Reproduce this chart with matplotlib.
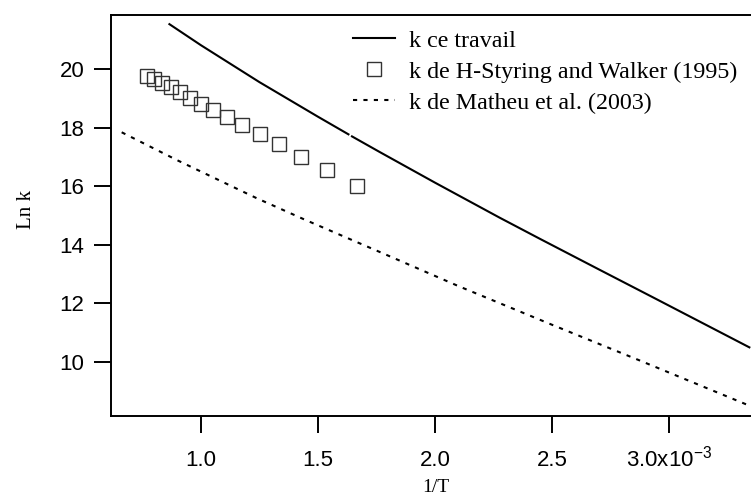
import numpy as np
import matplotlib
matplotlib.use('Agg')
import matplotlib.pyplot as plt

# 1/T in units of 1e-3 K^-1
calc_x1 = [0.865, 1.000, 1.250, 1.500, 1.630]
calc_y1 = [21.53, 20.81, 19.55, 18.37, 17.77]
calc_x2 = [1.645, 1.765, 2.000, 2.275, 2.449, 2.700, 2.940, 3.343]
calc_y2 = [17.70, 17.16, 16.12, 14.93, 14.20, 13.16, 12.17, 10.50]

hs_x = [0.769, 0.800, 0.833, 0.870, 0.909, 0.952, 1.000, 1.053,
        1.111, 1.176, 1.250, 1.333, 1.429, 1.538, 1.667]
hs_y = [19.77, 19.66, 19.52, 19.38, 19.21, 19.00, 18.80, 18.60,
        18.35, 18.09, 17.77, 17.43, 17.00, 16.54, 16.02]

mat_x = [0.661, 0.900, 1.238, 1.440, 1.800, 2.100, 2.221, 2.500, 2.869, 3.346]
mat_y = [17.84, 16.88, 15.59, 14.87, 13.63, 12.59, 12.19, 11.27, 10.07, 8.50]

xticks = [1.0, 1.5, 2.0, 2.5, 3.0]
xtick_labels = ['1.0', '1.5', '2.0', '2.5', r'3.0x10$^{\mathregular{-3}}$']
yticks = [10, 12, 14, 16, 18, 20]

plt.rcParams['mathtext.fontset'] = 'custom'
plt.rcParams['mathtext.rm'] = 'Liberation Sans'

fig = plt.figure(figsize=(7.51, 4.96), dpi=100)
ax = fig.add_axes([111/751, 1 - 416/496, 640/751, 401.3/496])

ax.plot(calc_x1, calc_y1, color='k', lw=1.5, label='k ce travail')
ax.plot(calc_x2, calc_y2, color='k', lw=1.5)
ax.plot(hs_x, hs_y, ls='none', marker='s', ms=9.5, mfc='none', mec='#333333', mew=1,
        label='k de H-Styring and Walker (1995)')
ax.plot(mat_x, mat_y, color='k', lw=1.5, ls=(0, (2, 3)), label='k de Matheu et al. (2003)')

ax.set_xlim(0.6154, 3.350)
ax.set_ylim(8.157, 21.853)

ax.set_xticks(xticks)
ax.set_xticklabels(xtick_labels, fontfamily='Liberation Sans', fontsize=16)
ax.set_yticks(yticks)
ax.set_yticklabels([str(v) for v in yticks], fontfamily='Liberation Sans', fontsize=16)
ax.tick_params(axis='both', direction='out', length=12, width=1.4)
ax.tick_params(axis='y', pad=7)
ax.tick_params(axis='x', pad=24)
for lbl in ax.get_xticklabels():
    lbl.set_verticalalignment('baseline')

for s in ['left', 'bottom', 'top']:
    ax.spines[s].set_linewidth(1.4)
ax.spines['right'].set_visible(False)

ax.set_ylabel('Ln k', fontfamily='Liberation Serif', fontsize=15)
ax.yaxis.set_label_coords(-0.117, 0.515)
ax.set_xlabel('1/T', fontfamily='Liberation Serif', fontsize=14, va='top')
ax.xaxis.set_label_coords(0.508, -0.158)

ax.legend(loc='upper left', bbox_to_anchor=(0.378, 0.962), frameon=False,
          prop={'family': 'Liberation Serif', 'size': 17.3},
          handlelength=1.77, handletextpad=0.55, labelspacing=0.38,
          borderpad=0, borderaxespad=0)

fig.savefig('out.png', dpi=100)
